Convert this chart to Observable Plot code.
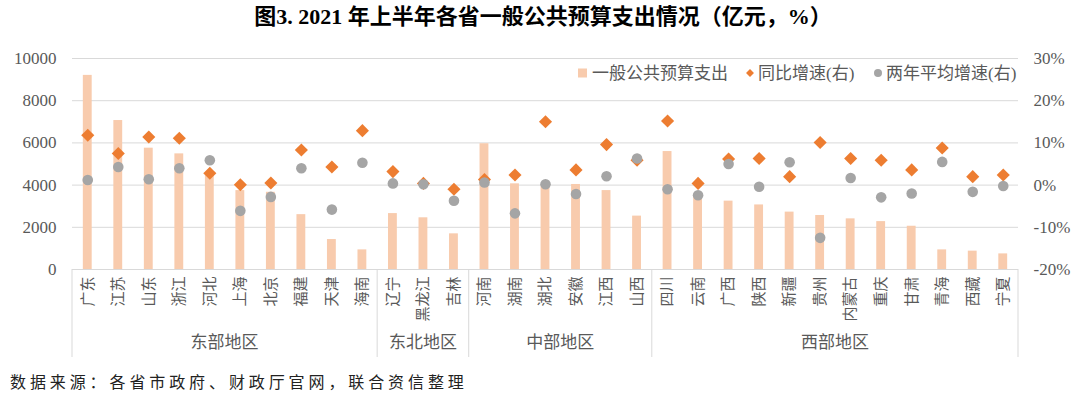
<!DOCTYPE html>
<html>
<head>
<meta charset="utf-8">
<script src="https://cdn.jsdelivr.net/npm/d3@7"></script>
<script src="https://cdn.jsdelivr.net/npm/@observablehq/plot@0.6"></script>
<style>
  html, body { margin: 0; padding: 0; background: #fff; }
  #chart { width: 1080px; height: 397px; }
</style>
</head>
<body>
<div id="chart"></div>
<script>
// ---- data ----
const provinces = ["广东","江苏","山东","浙江","河北","上海","北京","福建","天津","海南",
  "辽宁","黑龙江","吉林",
  "河南","湖南","湖北","安徽","江西","山西",
  "四川","云南","广西","陕西","新疆","贵州","内蒙古","重庆","甘肃","青海","西藏","宁夏"];
const expenditure = [9200,7060,5750,5480,4500,3740,3660,2600,1420,930,
  2650,2450,1690,
  5960,4060,3950,4030,3740,2530,
  5590,3450,3240,3060,2720,2560,2400,2270,2050,930,870,740];
const yoyGrowth = [11.8,7.5,11.4,11.1,2.8,0.1,0.5,8.3,4.3,12.9,
  3.2,0.4,-1.0,
  1.3,2.4,15.0,3.6,9.6,5.9,
  15.2,0.4,6.2,6.3,2.0,10.1,6.3,5.9,3.6,8.8,2.0,2.4];
const avgGrowth = [1.2,4.3,1.4,4.0,5.9,-6.1,-2.8,4.0,-5.8,5.3,
  0.4,0.2,-3.7,
  0.6,-6.7,0.2,-2.1,2.1,6.3,
  -1.0,-2.4,5.0,-0.4,5.4,-12.5,1.7,-2.9,-2.0,5.5,-1.6,-0.2];
const regionNames = ["东部地区","东北地区","中部地区","西部地区"];
const regionSizes = [10, 3, 6, 12];
const leftTicks = [0, 2000, 4000, 6000, 8000, 10000];
const rightTicks = [-20, -10, 0, 10, 20, 30];
const seriesNames = ["一般公共预算支出", "同比增速(右)", "两年平均增速(右)"];
const titleText = "图3. 2021 年上半年各省一般公共预算支出情况（亿元，%）";
const sourceText = "数据来源：各省市政府、财政厅官网，联合资信整理";

// right axis (%) shares the left scale through a linear mapping
const pctMin = -20, pctMax = 30, yMax = 10000;
const toY = p => (p - pctMin) / (pctMax - pctMin) * yMax;
const fromY = v => v / yMax * (pctMax - pctMin) + pctMin;

const data = provinces.map((p, i) => ({prov: p, exp: expenditure[i], yoy: yoyGrowth[i], avg: avgGrowth[i]}));

const COLORS = {bar: "#F8CBAD", yoy: "#ED7D31", avg: "#A5A5A5", grid: "#D9D9D9", text: "#595959"};
const SERIF = "'Liberation Serif', 'Times New Roman', serif";
const CJK = "'Noto Sans CJK SC', sans-serif";
const PADI = 0.71;

const plot = Plot.plot({
  width: 1080,
  height: 397,
  marginTop: 58,
  marginBottom: 128,
  marginLeft: 72,
  marginRight: 62,
  style: {fontFamily: CJK, fontSize: "15px", color: COLORS.text, background: "#fff", overflow: "visible"},
  x: {domain: provinces, paddingInner: PADI, paddingOuter: PADI / 2, round: false, label: null},
  y: {domain: [0, yMax], label: null},
  marks: [
    Plot.ruleY(leftTicks, {stroke: COLORS.grid, strokeWidth: 1}),
    Plot.barY(data, {x: "prov", y: "exp", fill: COLORS.bar}),
    Plot.dot(data, {x: "prov", y: d => toY(d.yoy), symbol: "diamond2", r: 5.9, fill: COLORS.yoy, stroke: "none"}),
    Plot.dot(data, {x: "prov", y: d => toY(d.avg), r: 5.3, fill: COLORS.avg, stroke: "none"}),
    Plot.axisY(leftTicks, {anchor: "left", tickSize: 0, tickPadding: 16, fontSize: 17, fontFamily: SERIF, fill: COLORS.text,
      tickFormat: d => String(d), label: null}),
    Plot.axisY(rightTicks.map(toY), {anchor: "right", tickSize: 0, tickPadding: 15, fontSize: 17, fontFamily: SERIF, fill: COLORS.text,
      tickFormat: d => `${Math.round(fromY(d))}%`, label: null}),
    Plot.axisX({tickRotate: -90, tickSize: 0, tickPadding: 7, fontSize: 15, fontFamily: CJK, fill: COLORS.text, label: null})
  ]
});

document.getElementById("chart").appendChild(plot);

// ---- extras built from the plot's own scales ----
const svg = d3.select(plot);
const xs = plot.scale("x");
const ys = plot.scale("y");
const half = (xs.step - xs.bandwidth) / 2;
const baseY = ys.apply(0);
const lineBottom = baseY + 88;

// group separators and labels
let start = 0;
const bounds = [];
regionSizes.forEach(n => { bounds.push([start, start + n - 1]); start += n; });
const leftEdge = i => xs.apply(provinces[i]) - half;
const rightEdge = i => xs.apply(provinces[i]) + xs.bandwidth + half;
const sepXs = [leftEdge(0), ...bounds.map(b => rightEdge(b[1]))];
const g = svg.append("g");
sepXs.forEach(x => {
  g.append("line").attr("x1", x).attr("x2", x).attr("y1", baseY).attr("y2", lineBottom)
    .attr("stroke", COLORS.grid).attr("stroke-width", 1);
});
bounds.forEach((b, k) => {
  const cx = (leftEdge(b[0]) + rightEdge(b[1])) / 2;
  g.append("text").attr("x", cx).attr("y", baseY + 79)
    .attr("text-anchor", "middle").attr("font-family", CJK).attr("font-size", 17)
    .attr("fill", COLORS.text).text(regionNames[k]);
});

// title
svg.append("text").attr("x", 543).attr("y", 24).attr("text-anchor", "middle")
  .attr("font-family", SERIF + ", " + CJK).attr("font-weight", "bold").attr("font-size", 22)
  .attr("fill", "#000").text(titleText);

// legend
const lg = svg.append("g").attr("font-family", SERIF + ", " + CJK).attr("font-size", 17)
  .attr("fill", COLORS.text).attr("text-anchor", "start");
const ly = 73;
lg.append("rect").attr("x", 578).attr("y", ly - 4.5).attr("width", 9).attr("height", 9).attr("fill", COLORS.bar);
lg.append("text").attr("x", 592).attr("y", ly).attr("dy", "0.35em").text(seriesNames[0]);
lg.append("path").attr("d", d3.symbol(d3.symbolDiamond2, 40)()).attr("transform", `translate(750,${ly})`).attr("fill", COLORS.yoy);
lg.append("text").attr("x", 758).attr("y", ly).attr("dy", "0.35em").text(seriesNames[1]);
lg.append("circle").attr("cx", 878).attr("cy", ly).attr("r", 4).attr("fill", COLORS.avg);
lg.append("text").attr("x", 886).attr("y", ly).attr("dy", "0.35em").text(seriesNames[2]);

// source
svg.append("text").attr("x", 10).attr("y", 388).attr("text-anchor", "start")
  .attr("font-family", CJK).attr("font-size", 16).attr("letter-spacing", "3.9px")
  .attr("fill", "#222").text(sourceText);
</script>
</body>
</html>
